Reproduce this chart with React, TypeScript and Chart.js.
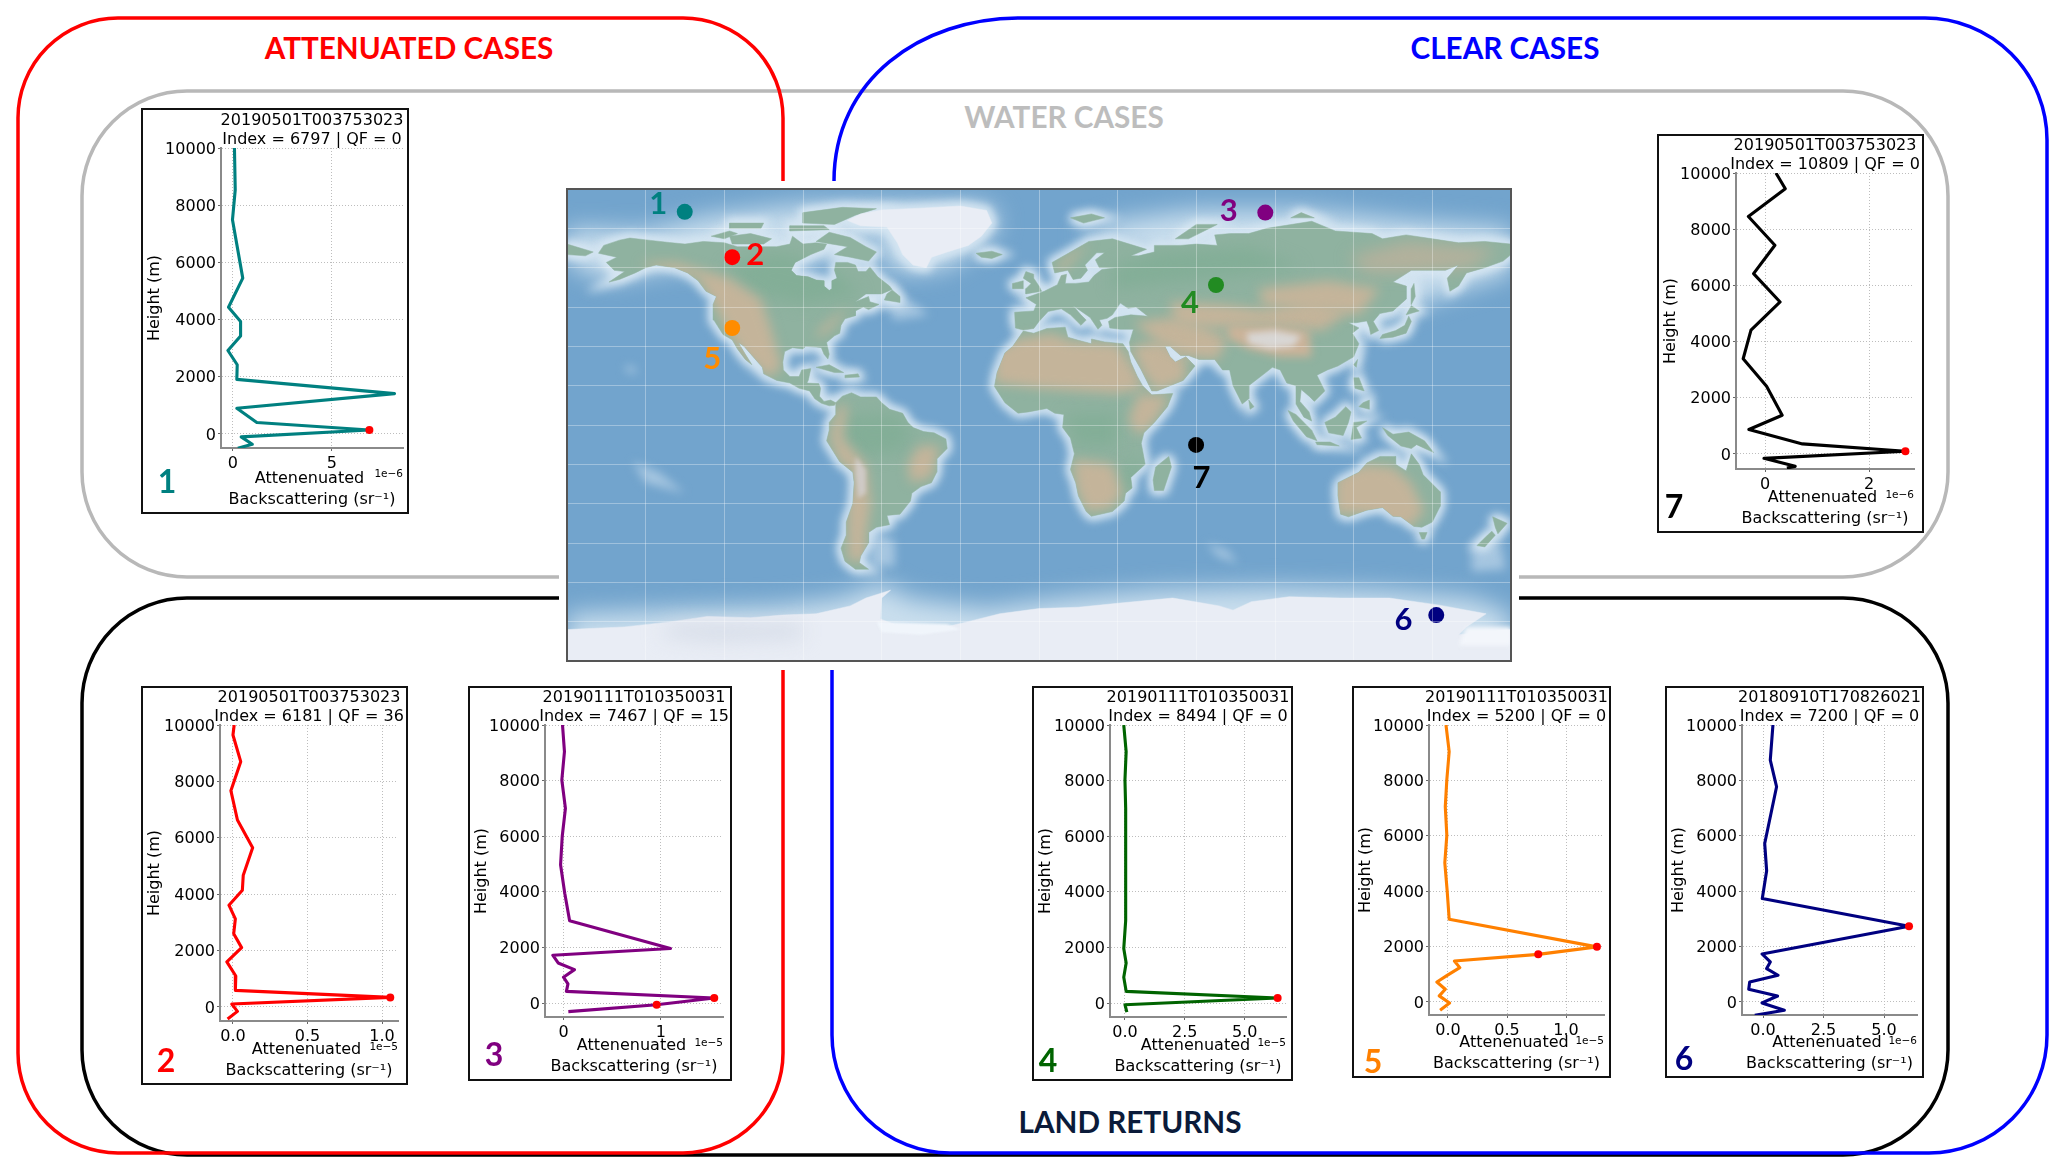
import React, { useEffect, useRef } from "react";
import { Chart, registerables } from "chart.js";

// ---------- profile data (height in m, backscatter in axis units) ----------
const heights1 = [10000, 8540, 7490, 5450, 4430, 3930, 3430, 2920, 2420, 1910, 1410, 900, 400, 140, -100, -360, -500];
const values1 = [0.08, 0.12, -0.02, 0.5, -0.22, 0.39, 0.39, -0.25, 0.22, 0.2, 8.17, 0.2, 1.21, 6.9, 0.42, 0.98, 0.25];
const peaks1 = [[6.9, 140]];

const heights2 = [10000, 9645, 8700, 7670, 6630, 5645, 4675, 4140, 3610, 3125, 2600, 2105, 1600, 1100, 590, 340, 105, -155, -425];
const values2 = [0.008, 0, 0.052, -0.014, 0.03, 0.132, 0.069, 0.063, -0.027, 0.016, 0.005, 0.058, -0.041, 0.019, 0.016, 1.055, -0.008, 0.03, -0.036];
const peaks2 = [[1.055, 340]];

const heights3 = [10000, 9040, 8020, 7000, 5990, 4970, 3950, 2960, 1960, 1720, 1440, 1200, 930, 690, 420, 180, -60, -310];
const values3 = [-0.01, 0.01, -0.017, 0.02, -0.013, -0.03, 0.013, 0.063, 1.1, -0.11, -0.055, 0.113, 0, 0.046, 0.03, 1.55, 0.958, 0.05];
const peaks3 = [[1.55, 180], [0.958, -60]];

const heights4 = [10000, 9040, 8020, 7000, 5990, 4970, 3950, 2960, 1960, 1440, 930, 420, 180, -60, -330];
const values4 = [-0.05, 0.05, 0, 0.03, 0.03, 0.03, 0.03, 0.03, -0.05, 0.05, -0.05, 0.05, 6.38, 0, 0.08];
const peaks4 = [[6.38, 180]];

const heights5 = [10000, 9040, 8020, 7050, 6020, 5020, 4010, 2990, 1990, 1720, 1480, 1240, 960, 720, 460, 220, -40, -300];
const values5 = [-0.017, 0.01, -0.01, -0.023, -0.01, -0.027, -0.007, 0.01, 1.262, 0.765, 0.054, 0.1, -0.007, -0.094, -0.023, -0.074, 0.013, -0.067];
const peaks5 = [[1.262, 1990], [0.765, 1720]];

const heights6 = [10000, 8735, 7770, 5720, 4735, 3735, 2735, 1735, 1445, 1205, 965, 720, 460, 215, -35, -300, -480];
const values6 = [0.41, 0.3, 0.56, 0.07, 0.15, -0.03, 6.03, -0.04, 0.3, 0.15, 0.62, -0.55, -0.59, 0.6, -0.04, 0.88, -0.34];
const peaks6 = [[6.03, 2735]];

const heights7 = [10000, 9440, 8450, 7430, 6420, 5410, 4410, 3390, 2410, 1380, 870, 360, 95, -155, -440, -500];
const values7 = [0.21, 0.39, -0.32, 0.19, -0.22, 0.29, -0.27, -0.42, 0.03, 0.33, -0.31, 0.72, 2.7, -0.02, 0.58, 0.42];
const peaks7 = [[2.7, 95]];

const heightTicks = [0, 2000, 4000, 6000, 8000, 10000];

// ---------- map data (longitude, latitude) ----------
const northAmerica = [[-168,65.5],[-166,68.5],[-160,70.5],[-156,71.3],[-148,70.4],[-141,69.6],[-135,69],[-128,70],[-120,69.5],[-115,68],[-108,68],[-100,68],[-95,69],[-94,72],[-90,69],[-85,69.5],[-81,69],[-82,67],[-87,65],[-93,62],[-94.5,59],[-92.5,57],[-88,56.5],[-85,55.3],[-82,55],[-82,53],[-80,51.3],[-79,52],[-79,55],[-77,56],[-78,59],[-77.5,62],[-73,62],[-70,61],[-69,58.5],[-66,58.5],[-64.5,60.3],[-61.5,56.5],[-57,53],[-56,51.7],[-60,50],[-66,50],[-70,47],[-65,49],[-64.5,47],[-61,46],[-65,44],[-67,45],[-70,43.5],[-70,41.7],[-74,40.5],[-75.5,38],[-76,35],[-78,34],[-81,31.5],[-80,27],[-80.5,25.2],[-82,27],[-83,29.5],[-85,29.7],[-89,30],[-90,29],[-94,29.5],[-97,28],[-97.7,24],[-97.5,21],[-95,18.5],[-91.5,18.5],[-90.5,21],[-87,21.5],[-88,17],[-88.5,16],[-84,15.8],[-83.3,14],[-83.7,11],[-82,9],[-79.5,9.5],[-77.5,8.5],[-78,7.5],[-80,7.3],[-83,8.3],[-85.5,10],[-87.5,13],[-91.5,14],[-95,16],[-100,17],[-105,19.5],[-105.5,22],[-109,26],[-112.5,30],[-114.7,31.5],[-112,27],[-109.5,23],[-112,25],[-115,29],[-117,32.5],[-120.5,34.5],[-124,40],[-124.3,46],[-123,49],[-127,51],[-130,55],[-134,58],[-139,60],[-146,61],[-150,60],[-154,58],[-160,55.5],[-164,54.5],[-158,58.5],[-162,59],[-165,62],[-161,64]];
const southAmerica = [[-77.5,8.5],[-75,11],[-71.5,12.3],[-68,10.7],[-62,10.7],[-60,8.5],[-57,6],[-52,4.5],[-50,1],[-48,-1],[-44,-2.5],[-40,-3],[-35.5,-5.3],[-35,-9],[-39,-13],[-39,-18],[-41,-22],[-45,-23.5],[-48.5,-26],[-49,-29],[-53,-34],[-58,-34.5],[-57,-38],[-62,-39],[-65,-41],[-65,-45],[-68,-50],[-68.5,-52.5],[-65,-55],[-70,-55],[-74,-52],[-75.5,-47],[-73.5,-42],[-73.5,-37],[-71,-30],[-70.5,-22],[-71,-18],[-76,-14],[-81,-6],[-80,-2],[-80,1],[-77.5,4]];
const africa = [[-6,35.8],[-2,35],[3,36.8],[10,37.3],[11,33.5],[15,32.3],[20,31],[20,32.8],[25,31.7],[32,31],[34,28],[35,24],[37.5,18.5],[39.5,15],[43,11.5],[51,12],[49,7],[44,1],[40,-3],[39,-7],[40.5,-15],[35,-20],[35.5,-24],[33,-26],[32.5,-29],[28,-33],[20,-34.8],[18,-33],[15,-27],[14,-22],[12,-17],[13.5,-11],[12,-5],[9,-1],[9.5,4],[6,4.5],[3,6.3],[-4,5],[-8,4.5],[-13,8.5],[-17,14.7],[-16,20],[-13,27.5],[-10,30]];
const eurasia = [[-9,37],[-9.3,43],[-2,43.5],[-1,46],[-5,48.5],[2,51],[7,53.5],[8.5,57],[10.5,57.5],[10,54],[14,54],[19,54.5],[21,57],[24,59.3],[30,60],[23,60],[21.5,63],[25,65.7],[22,65.7],[17.5,61],[18.5,59],[16,56],[13,55.5],[11,59],[6,58],[5,62],[13,66.5],[19,70],[28,71],[41,67],[35,64.5],[38,64.5],[44,66],[44,68.5],[54,68.5],[60,69],[68,68.5],[67,72.5],[73,73],[80,73],[87,75],[104,77.7],[113,74],[127,73],[131,71],[140,72.5],[150,71],[160,69.5],[170,70],[180,69],[180,65],[177,62.5],[170,60],[163,58],[160,53],[156.7,51],[155.7,56],[160,61],[155,59],[142,59],[135,54.5],[140,53],[140,48],[135,43.5],[130,42.5],[127.5,39.5],[129.5,36],[126.5,34.5],[126,37],[125,39.7],[121,39],[118,39],[122,37],[119.5,35],[122,31],[120,26],[114,22.5],[110,21],[106,19],[109,13],[105,9],[103,11],[100,13.5],[99.5,9],[103,5],[104,1.5],[101,3],[98,8],[98,15],[94.5,16],[92,21],[89,22],[86.5,20],[80,15],[80,10],[77.5,8],[74,15],[72.7,21],[70,21],[67,25],[61,25],[57,26.5],[54,26.5],[50,30],[48,30],[50,26],[52,24],[56,26],[59.5,22.5],[55,17],[45,13],[43,13],[39,21],[35,28],[34.5,31.5],[36,36.5],[31,36.5],[27,37],[26.5,39.5],[29,41],[35,42],[41.5,41.5],[37,45],[34,44.5],[31,46.5],[28,42],[26,40.7],[23,40],[24,38],[22.5,36.5],[19.5,41],[13,45.5],[16,42],[18,40],[16,38],[12,42],[8.5,44.3],[3.5,43.3],[0,39.5],[-2,36.8],[-6,36.2]];
const chukotka = [[-180,69],[-175,67.5],[-170,66],[-173,64.5],[-180,65]];
const greenland = [[-73,78],[-68,80.5],[-60,82],[-45,82.7],[-30,83.5],[-20,81.8],[-18,77],[-22,72],[-27,68.5],[-35,66],[-41,64],[-43,60],[-48,61],[-52,65],[-54,69.5],[-58,75.5],[-68,76]];
const baffin = [[-80,73.5],[-72,71.5],[-66,68],[-62,66],[-65,62.5],[-72,64],[-78,65],[-73,68],[-85,70]];
const victoria = [[-117,69],[-105,69],[-102,71],[-110,73],[-118,72]];
const ellesmere = [[-90,77],[-78,76.5],[-70,80],[-62,82.5],[-75,83],[-90,81]];
const banks = [[-125,72],[-118,74],[-115,73],[-120,71]];
const devon = [[-95,74],[-80,74.5],[-82,76],[-95,76]];
const melville = [[-118,75],[-106,75],[-105,77],[-118,77]];
const newfoundland = [[-59,47.7],[-53,46.7],[-53,49],[-56,51.5],[-58,50]];
const cuba = [[-85,22],[-80,23],[-74.5,20],[-78,20]];
const hispaniola = [[-74,19],[-69,19.5],[-68.5,18.3],[-74,18]];
const madagascar = [[49.5,-12],[50.5,-16],[47.5,-25],[44,-25],[43.5,-21],[44.5,-16]];
const britain = [[-5,50],[1,51],[0,53],[-2,56],[-2,57.5],[-5,58.5],[-6,56],[-3,54],[-5,52]];
const ireland = [[-10,52],[-6,52],[-6,55],[-10,54]];
const iceland = [[-24,65.5],[-18,66.3],[-14,65],[-18,63.5],[-22,64]];
const svalbard = [[12,79],[20,80.5],[25,79],[17,77]];
const novayaZemlya = [[52,71],[57,71],[68,76.5],[60,76.5]];
const severnaya = [[96,79],[105,79],[100,81]];
const honshu = [[130,33],[135,33.5],[140,35],[142,39.5],[141,41.5],[139.5,38],[136,36],[131,34.5]];
const hokkaido = [[140,42],[145,43.5],[142,45.5]];
const sakhalin = [[142,46],[143.5,49],[143,54],[142,52]];
const sriLanka = [[80,9.5],[82,7],[80.5,6]];
const taiwan = [[120,23],[121.5,25],[121,22]];
const luzon = [[120,18],[122,18],[124,13],[120.5,14]];
const mindanao = [[122,7],[126,6],[126,9.5],[123.5,8.5]];
const sumatra = [[95,5.5],[98,4],[104,-2],[106,-6],[102,-4.5],[97,1.5]];
const java = [[105.5,-6.5],[111,-6.5],[114.5,-8],[106,-7.5]];
const borneo = [[109,1],[113,3],[117,7],[119,5],[118,1],[116,-4],[110.5,-3]];
const sulawesi = [[119,-5.5],[120,1],[125,1.5],[121,-1],[123,-5]];
const newGuinea = [[131,-1],[135,-3.5],[141,-2.7],[147,-6],[150.5,-10.5],[144,-7.5],[142,-9],[138,-8],[133,-4]];
const australia = [[114,-22],[122,-18],[125,-14.5],[130,-12],[136,-12],[136,-15],[140,-17.5],[142,-11],[145,-15],[146.5,-19],[153,-25.5],[153,-31],[150,-37],[146,-39],[143,-38.7],[138,-35],[135,-34.8],[131,-31.5],[125,-32.5],[118,-35],[115,-34],[114,-27]];
const tasmania = [[145,-41],[148,-41],[147,-43.5],[146,-43.5]];
const newZealandN = [[173,-35],[178.5,-37.5],[175,-41.5],[174,-39]];
const newZealandS = [[172.7,-40.5],[174,-42],[170,-46.5],[167,-46],[171,-42]];
const antarctica = [[-180,-78],[-158,-77],[-140,-75],[-126.5,-73],[-110,-73.5],[-98,-72.5],[-85,-72],[-72,-69],[-66,-66],[-56.6,-63],[-60,-66],[-60.5,-74],[-50,-78],[-40,-78],[-27,-75],[-15,-72],[0,-70],[15,-69.5],[30,-68],[51,-66],[60,-67.5],[68.7,-69],[74,-70.6],[81,-67.4],[95.4,-65.5],[115,-66],[133.6,-66],[152.7,-68.7],[170.5,-72],[163,-77],[160,-80],[180,-78],[180,-90],[-180,-90]];

const landPolygons = [northAmerica, southAmerica, africa, eurasia, chukotka, baffin, victoria, ellesmere, banks, devon, melville, newfoundland, cuba, hispaniola, madagascar, britain, ireland, iceland, svalbard, novayaZemlya, severnaya, honshu, hokkaido, sakhalin, sriLanka, taiwan, luzon, mindanao, sumatra, java, borneo, sulawesi, newGuinea, australia, tasmania, newZealandN, newZealandS];
const icePolygons = [greenland, antarctica];

const arcticWest = [[-180,62],[-180,75],[-150,74],[-125,80],[-90,84],[-60,84.5],[-20,84],[-15,78],[-20,70],[-35,60],[-50,58],[-60,62],[-60,74],[-90,60],[-140,60],[-165,55]];
const arcticEast = [[15,72],[30,78],[60,82],[100,82],[140,78],[180,75],[180,58],[155,50],[130,40],[60,60]];
const southernIce = [[-180,-72],[-130,-70],[-100,-69],[-75,-66],[-60,-60],[-50,-66],[-20,-70],[10,-66],[45,-63],[90,-62],[130,-63],[165,-66],[180,-72],[180,-90],[-180,-90]];
const oceanPolar = [arcticWest, arcticEast, southernIce];
const kerguelen = [[64,-45],[72,-48],[76,-53],[68,-50]];
const hawaii = [[-158,21],[-155,19.5],[-153,21],[-157,23]];
const falklandPatch = [[-64,-40],[-55,-44],[-55,-54],[-64,-54]];
const tasmanPatch = [[165,-45],[176,-45],[178,-55],[165,-56]];
const frenchPolynesia = [[-155,-14],[-145,-18],[-135,-26],[-150,-22]];
const labradorPatch = [[-60,48],[-50,48],[-42,42],[-55,40]];
const oceanSmudges = [kerguelen, hawaii, falklandPatch, tasmanPatch, frenchPolynesia, labradorPatch];

const sahara = [[-17,28],[-8,33],[5,35],[12,32],[30,31],[36,22],[40,14],[30,12],[15,13],[0,14],[-17,16]];
const hornAfrica = [[38,12],[50,11],[44,1],[38,-4],[34,2]];
const kalahari = [[13,-13],[28,-15],[32,-26],[27,-32],[18,-33],[14,-24]];
const arabia = [[35,30],[46,32],[56,25],[56,17],[45,13],[40,19]];
const iran = [[36,39],[50,41],[62,38],[72,33],[68,25],[56,26],[46,31]];
const centralAsia = [[50,47],[70,46],[85,44],[105,47],[118,43],[108,36],[85,38],[68,37],[52,38]];
const himalaya = [[72,38],[90,38],[103,36],[104,26],[92,26],[80,29],[72,33]];
const altaiMongolia = [[84,52],[110,55],[130,52],[122,42],[100,44],[85,46]];
const siberiaEast = [[118,64],[140,70],[175,67],[165,60],[140,58],[125,58]];
const rockies = [[-152,62],[-138,62],[-118,56],[-106,48],[-102,36],[-98,22],[-103,18],[-112,26],[-118,34],[-123,44],[-130,56],[-148,60]];
const andes = [[-76,8],[-73,7],[-75,-5],[-66,-15],[-64,-30],[-66,-42],[-66,-52],[-73,-52],[-73,-30],[-70,-19],[-77,-13],[-80,-4]];
const brazilHighlands = [[-46,-8],[-38,-8],[-41,-20],[-49,-22],[-50,-15]];
const australiaInner = [[113,-20],[124,-15],[135,-16],[142,-22],[147,-33],[140,-40],[125,-34],[113,-34]];
const appalachian = [[-85,33],[-80,36],[-74,43],[-71,45],[-77,42],[-84,36]];
const scandes = [[6,60],[12,65],[20,70],[16,66],[9,59]];
const tanTerrain = [sahara, hornAfrica, kalahari, arabia, iran, centralAsia, rockies, andes, brazilHighlands, australiaInner, appalachian, scandes, altaiMongolia];
const paleTerrain = [siberiaEast];

const amazon = [[-75,3],[-55,4],[-48,-2],[-52,-10],[-68,-12],[-75,-5]];
const congo = [[10,4],[30,4],[30,-8],[14,-8]];
const mozambique = [[33,-14],[40,-14],[36,-25],[32,-26]];
const russianPlain = [[28,52],[60,55],[100,60],[80,68],[45,66],[28,60]];
const canadaForest = [[-120,60],[-100,66],[-80,60],[-68,50],[-90,46],[-108,50]];
const greenTerrain = [amazon, congo, mozambique, russianPlain, canadaForest];

const tibet = [[79,35],[90,36],[100,34],[97,30],[88,29],[80,31]];
const andesCore = [[-70,-12],[-66,-17],[-66,-26],[-69,-28],[-70,-19]];
const westAntarcticShade = [[-140,-76],[-110,-76],[-90,-76],[-90,-81],[-125,-82],[-145,-80]];
const ronneShelf = [[-62,-75],[-35,-76],[-30,-78],[-45,-80],[-60,-79]];
const rossGap = [[163,-77],[180,-77],[180,-84],[160,-84]];

const siteLons = [-135.1, -117, 86.3, 67.5, -117, 151.5, 59.9];
const siteLats = [81.3, 64, 81, 53.4, 37, -72.5, -7.6];
const siteColors = ["#008080", "#ff0000", "#800080", "#228b22", "#ff8c00", "#000080", "#000000"];
const siteNames = ["1", "2", "3", "4", "5", "6", "7"];
const siteLabelLons = [-145.2, -108.2, 72.4, 57.6, -124.6, 139, 62];
const siteLabelLats = [84.3, 64.9, 81.8, 46.4, 25, -74.5, -20.2];
const meridians = [-150, -120, -90, -60, -30, 0, 30, 60, 90, 120, 150];
const parallels = [-75, -60, -45, -30, -15, 0, 15, 30, 45, 60, 75];

// ---------- panel table: built from the arrays above; layout in page pixels ----------
const panels = [
  { n: "1", color: "#008080", time: "20190501T003753023", sub: "Index = 6797 | QF = 0", exp: "1e\u22126", h: heights1, v: values1, peaks: peaks1, xTicks: [0, 5], dec: 0, box: [141, 108, 409, 514], plot: [221, 148, 403, 448], xr: [-0.6, 8.6], yMin: -490, digit: [167, 483] },
  { n: "2", color: "#ff0000", time: "20190501T003753023", sub: "Index = 6181 | QF = 36", exp: "1e\u22125", h: heights2, v: values2, peaks: peaks2, xTicks: [0, 0.5, 1], dec: 1, box: [141, 686, 408, 1085], plot: [220, 725, 398, 1021], xr: [-0.087, 1.107], yMin: -497, digit: [166, 1062] },
  { n: "3", color: "#800080", time: "20190111T010350031", sub: "Index = 7467 | QF = 15", exp: "1e\u22125", h: heights3, v: values3, peaks: peaks3, xTicks: [0, 1], dec: 0, box: [468, 686, 732, 1081], plot: [545, 725, 723, 1017], xr: [-0.19, 1.64], yMin: -503, digit: [494, 1056] },
  { n: "4", color: "#006400", time: "20190111T010350031", sub: "Index = 8494 | QF = 0", exp: "1e\u22125", h: heights4, v: values4, peaks: peaks4, xTicks: [0, 2.5, 5], dec: 1, box: [1032, 686, 1293, 1081], plot: [1110, 725, 1286, 1017], xr: [-0.625, 6.73], yMin: -503, digit: [1048, 1062] },
  { n: "5", color: "#ff8000", time: "20190111T010350031", sub: "Index = 5200 | QF = 0", exp: "1e\u22125", h: heights5, v: values5, peaks: peaks5, xTicks: [0, 0.5, 1], dec: 1, box: [1352, 686, 1611, 1078], plot: [1429, 725, 1604, 1015], xr: [-0.161, 1.322], yMin: -470, digit: [1373, 1063] },
  { n: "6", color: "#000080", time: "20180910T170826021", sub: "Index = 7200 | QF = 0", exp: "1e\u22126", h: heights6, v: values6, peaks: peaks6, xTicks: [0, 2.5, 5], dec: 1, box: [1665, 686, 1924, 1078], plot: [1742, 725, 1917, 1015], xr: [-0.868, 6.36], yMin: -470, digit: [1684, 1060] },
  { n: "7", color: "#000000", time: "20190501T003753023", sub: "Index = 10809 | QF = 0", exp: "1e\u22126", h: heights7, v: values7, peaks: peaks7, xTicks: [0, 2], dec: 0, box: [1657, 134, 1924, 533], plot: [1736, 173, 1914, 469], xr: [-0.558, 2.865], yMin: -534, digit: [1674, 508] },
];

const UI = "'DejaVu Sans'";
const BOLD = "Lato";

const closed = (poly: number[][]) => [...poly, poly[0]].map(([x, y]) => ({ x, y }));

// Layer effects on map datasets: dataset.blur and dataset.clipToLand.
const layerPlugin = {
  id: "mapLayers",
  beforeDatasetDraw(chart: any, args: any) {
    const ds = chart.data.datasets[args.index];
    if (!ds.blur && !ds.clipToLand) return;
    const ctx = chart.ctx;
    ctx.save();
    if (ds.clipToLand) {
      const xs = chart.scales.x;
      const ys = chart.scales.y;
      const path = new Path2D();
      landPolygons.forEach((poly) => {
        poly.forEach(([lo, la], i) => {
          const px = xs.getPixelForValue(lo);
          const py = ys.getPixelForValue(la);
          if (i === 0) path.moveTo(px, py);
          else path.lineTo(px, py);
        });
        path.closePath();
      });
      ctx.clip(path);
    }
    if (ds.blur) ctx.filter = `blur(${ds.blur}px)`;
  },
  afterDatasetDraw(chart: any, args: any) {
    const ds = chart.data.datasets[args.index];
    if (ds.blur || ds.clipToLand) chart.ctx.restore();
  },
};
Chart.register(layerPlugin as any);
Chart.register(...registerables);

function Panel({ p }: { p: (typeof panels)[number] }) {
  const ref = useRef<HTMLCanvasElement>(null);
  const [bl, bt, br, bb] = p.box;
  const [pl, pt, pr, pb] = p.plot;
  useEffect(() => {
    const decor = {
      id: "decor",
      afterDraw(c: any) {
        const ctx = c.ctx;
        const w = c.width;
        const h = c.height;
        ctx.save();
        ctx.strokeStyle = "#111";
        ctx.lineWidth = 2;
        ctx.strokeRect(1, 1, w - 2, h - 2);
        ctx.fillStyle = "#000";
        ctx.textAlign = "center";
        ctx.textBaseline = "middle";
        ctx.font = `16px ${UI}`;
        const cx = (pl + pr) / 2 - bl;
        ctx.fillText(p.time, cx, pt - bt - 27);
        ctx.fillText(p.sub, cx, pt - bt - 8);
        ctx.textAlign = "right";
        ctx.font = `10.5px ${UI}`;
        ctx.fillText(p.exp, pr - bl, pb - bt + 26);
        ctx.textAlign = "center";
        ctx.fillStyle = p.color;
        ctx.font = `bold 32px ${BOLD}`;
        ctx.fillText(p.n, p.digit[0] - bl, p.digit[1] - bt);
        ctx.restore();
      },
    };
    const grid = { color: "#bdbdbd", lineWidth: 1, tickColor: "#666", tickLength: 3, tickBorderDash: [] as number[] };
    const border = { color: "#8a8a8a", width: 2, dash: [1, 2] };
    const chart = new Chart(ref.current!, {
      type: "scatter",
      data: {
        datasets: [
          { data: p.peaks.map(([x, y]) => ({ x, y })), showLine: false, pointRadius: 4, pointBackgroundColor: "#ff0000", pointBorderWidth: 0, order: 0 },
          { data: p.v.map((x, i) => ({ x, y: p.h[i] })), showLine: true, borderColor: p.color, borderWidth: 3.1, borderJoinStyle: "round", pointRadius: 0, order: 1 },
        ],
      } as any,
      plugins: [decor],
      options: {
        animation: false,
        responsive: false,
        layout: { autoPadding: false, padding: { top: pt - bt, right: br - pr, left: 0, bottom: 0 } },
        plugins: { legend: { display: false }, tooltip: { enabled: false } },
        scales: {
          x: {
            type: "linear",
            min: p.xr[0],
            max: p.xr[1],
            afterBuildTicks: (s: any) => { s.ticks = p.xTicks.map((value) => ({ value })); },
            afterFit: (s: any) => { s.height = bb - pb; },
            ticks: { color: "#000", font: { family: UI, size: 16 }, maxRotation: 0, padding: 3, callback: (v: any) => Number(v).toFixed(p.dec) },
            grid,
            border,
            title: { display: true, text: ["Attenenuated ", "Backscattering (sr\u207b\u00b9)"], color: "#000", font: { family: UI, size: 16, lineHeight: 1.31 }, padding: { top: 0, bottom: 4 } },
          },
          y: {
            type: "linear",
            min: p.yMin,
            max: 10000,
            afterBuildTicks: (s: any) => { s.ticks = heightTicks.map((value) => ({ value })); },
            afterFit: (s: any) => { s.width = pl - bl; },
            ticks: { color: "#000", font: { family: UI, size: 16 }, padding: 2, labelOffset: 1.5, callback: (v: any) => String(v) },
            grid,
            border,
            title: { display: true, text: "Height (m)", color: "#000", font: { family: UI, size: 16, lineHeight: 1.2 }, padding: { top: 4, bottom: 0 } },
          },
        },
      } as any,
    });
    return () => chart.destroy();
  }, []);
  return <canvas ref={ref} width={br - bl} height={bb - bt} style={{ position: "absolute", left: bl, top: bt, display: "block" }} />;
}

function WorldMap() {
  const ref = useRef<HTMLCanvasElement>(null);
  useEffect(() => {
    const layers: any[] = [];
    const shape = (poly: number[][], color: string, extra: any = {}) => ({
      data: closed(poly),
      showLine: true,
      fill: "shape",
      backgroundColor: color,
      borderColor: color,
      borderWidth: 0,
      pointRadius: 0,
      ...extra,
    });
    oceanPolar.forEach((p) => layers.push(shape(p, "#c9deed", { blur: 12 })));
    oceanSmudges.forEach((p) => layers.push(shape(p, "#a6c6e0", { blur: 5 })));
    [...landPolygons, greenland].forEach((p) => layers.push(shape(p, "#d6e6f2", { blur: 5, borderWidth: 9 })));
    landPolygons.forEach((p) => layers.push(shape(p, "#8fb2a0", { borderWidth: 0.5 })));
    greenTerrain.forEach((p) => layers.push(shape(p, "#83ae97", { blur: 8, clipToLand: true })));
    paleTerrain.forEach((p) => layers.push(shape(p, "#b3b19c", { blur: 8, clipToLand: true })));
    tanTerrain.forEach((p) => layers.push(shape(p, "#c4b49a", { blur: 6, clipToLand: true })));
    layers.push(shape(himalaya, "#cbb399", { blur: 4, clipToLand: true }));
    layers.push(shape(tibet, "#d8d6d4", { blur: 3, clipToLand: true }));
    layers.push(shape(andesCore, "#cfcac6", { blur: 2, clipToLand: true }));
    icePolygons.forEach((p) => layers.push(shape(p, "#e9edf5", { borderWidth: 0.5 })));
    layers.push(shape(westAntarcticShade, "#d3dae6", { blur: 10 }));
    layers.push(shape(ronneShelf, "#f0f5fb", { blur: 1 }));
    layers.push(shape(rossGap, "#f3f6fb", { blur: 2 }));
    layers.forEach((d, i) => { d.order = 1000 - i; });
    layers.push({
      data: siteLons.map((x, i) => ({ x, y: siteLats[i] })),
      showLine: false,
      pointRadius: 8,
      pointBorderWidth: 0,
      pointBackgroundColor: siteColors,
      order: 0,
    });
    const deco = {
      id: "mapDeco",
      beforeDraw(c: any) {
        const { left, top, width, height } = c.chartArea;
        c.ctx.save();
        c.ctx.fillStyle = "#72a4cd";
        c.ctx.fillRect(left, top, width, height);
        c.ctx.restore();
      },
      afterDraw(c: any) {
        const ctx = c.ctx;
        ctx.save();
        ctx.font = `bold 31px ${BOLD}`;
        ctx.textAlign = "center";
        ctx.textBaseline = "middle";
        siteNames.forEach((t, i) => {
          ctx.fillStyle = siteColors[i];
          ctx.fillText(t, c.scales.x.getPixelForValue(siteLabelLons[i]), c.scales.y.getPixelForValue(siteLabelLats[i]));
        });
        ctx.strokeStyle = "#555";
        ctx.lineWidth = 2;
        ctx.strokeRect(1, 1, c.width - 2, c.height - 2);
        ctx.restore();
      },
    };
    const gridLine = { color: "rgba(255,255,255,0.32)", lineWidth: 1, z: 1, drawTicks: false };
    const chart = new Chart(ref.current!, {
      type: "scatter",
      data: { datasets: layers },
      plugins: [deco],
      options: {
        animation: false,
        responsive: false,
        layout: { autoPadding: false, padding: 1 },
        plugins: { legend: { display: false }, tooltip: { enabled: false } },
        scales: {
          x: {
            type: "linear", min: -180, max: 180,
            afterBuildTicks: (s: any) => { s.ticks = meridians.map((value) => ({ value })); },
            afterFit: (s: any) => { s.height = 0; },
            ticks: { display: false }, grid: gridLine, border: { display: false },
          },
          y: {
            type: "linear", min: -90, max: 90,
            afterBuildTicks: (s: any) => { s.ticks = parallels.map((value) => ({ value })); },
            afterFit: (s: any) => { s.width = 0; },
            ticks: { display: false }, grid: gridLine, border: { display: false },
          },
        },
      } as any,
    });
    return () => chart.destroy();
  }, []);
  return <canvas ref={ref} width={946} height={474} style={{ position: "absolute", left: 566, top: 188, display: "block" }} />;
}

const headings = [
  { t: "ATTENUATED CASES", x: 409, y: 52, c: "#ff0000" },
  { t: "CLEAR CASES", x: 1505, y: 52, c: "#0000ff" },
  { t: "WATER CASES", x: 1064, y: 121, c: "#bdbdbd" },
  { t: "LAND RETURNS", x: 1130, y: 1126, c: "#0b1b3a" },
];

export default function App() {
  useEffect(() => {
    document.body.style.margin = "0";
    document.body.style.overflow = "hidden";
  }, []);
  return (
    <div style={{ position: "absolute", left: 0, top: 0, width: 2067, height: 1174, background: "#fff", overflow: "hidden" }}>
      <svg width={2067} height={1174} style={{ position: "absolute", left: 0, top: 0 }} fill="none">
        <path d="M559 577 H187 A105 105 0 0 1 82 472 V196 A105 105 0 0 1 187 91 H1843 A105 105 0 0 1 1948 196 V472 A105 105 0 0 1 1843 577 H1519" stroke="#b8b8b8" strokeWidth={3.5} />
        <path d="M559 598 H187 A105 105 0 0 0 82 703 V1050 A105 105 0 0 0 187 1155 H1843 A105 105 0 0 0 1948 1050 V703 A105 105 0 0 0 1843 598 H1519" stroke="#000" strokeWidth={3.5} />
        <path d="M783 181 V118 A100 100 0 0 0 683 18 H118 A100 100 0 0 0 18 118 V1053 A100 100 0 0 0 118 1153 H683 A100 100 0 0 0 783 1053 V670" stroke="#ff0000" strokeWidth={3.5} />
        <path d="M834 181 C834 80 920 18 1020 18 H1925 A122 122 0 0 1 2047 140 V1035 A118 118 0 0 1 1929 1153 H950 A118 118 0 0 1 832 1035 V670" stroke="#0000ff" strokeWidth={3.5} />
      </svg>
      {headings.map((h) => (
        <div key={h.t} style={{ position: "absolute", left: h.x - 300, width: 600, top: h.y - 22, height: 44, lineHeight: "44px", textAlign: "center", color: h.c, font: `bold 29.7px ${BOLD}` }}>
          {h.t}
        </div>
      ))}
      <WorldMap />
      {panels.map((p) => (
        <Panel key={p.n} p={p} />
      ))}
    </div>
  );
}
